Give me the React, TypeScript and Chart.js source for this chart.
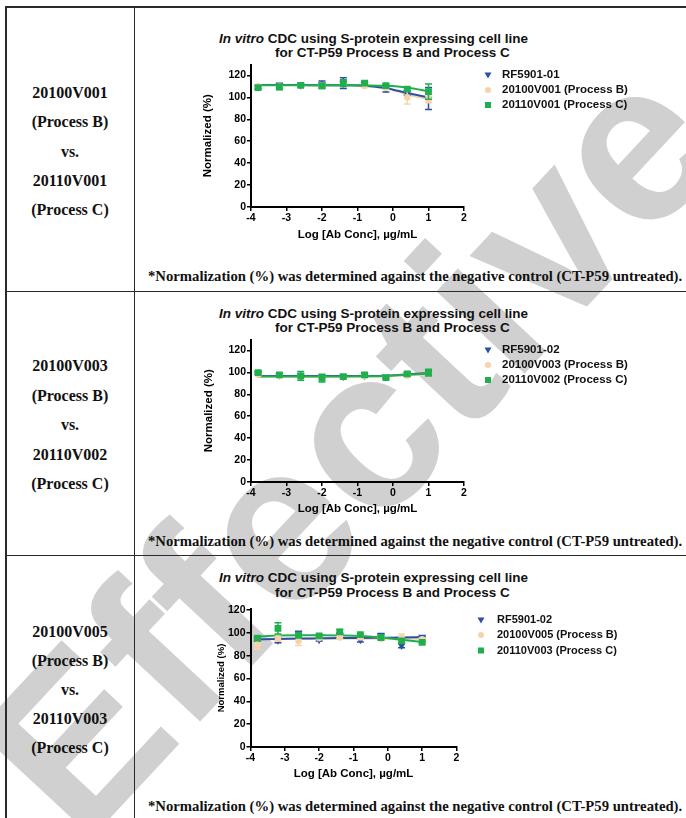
import React, { useEffect, useRef } from 'react';
import { Chart, registerables } from 'chart.js';

Chart.register(...registerables);

const SANS = '"Liberation Sans", Arial, Helvetica, sans-serif';
const SERIF = '"Liberation Serif", "Times New Roman", serif';

const BLUE = '#2C4FA5';
const PEACH = '#F7D3AC';
const GREEN = '#1FAF4C';

// ---------- shared axis data ----------
const xValues = [-3.8, -3.2, -2.6, -2.0, -1.4, -0.8, -0.2, 0.4, 1.0];
const xTickValues = [-4, -3, -2, -1, 0, 1, 2];
const yTickValues = [0, 20, 40, 60, 80, 100, 120];

const titleItalic = 'In vitro';
const titleLine1Rest = ' CDC using S-protein expressing cell line';
const titleLine2 = 'for CT-P59 Process B and Process C';
const yAxisTitle = 'Normalized (%)';
const xAxisTitle = 'Log [Ab Conc], \u00B5g/mL';
const footnote = '*Normalization (%) was determined against the negative control (CT-P59 untreated).';
const watermark = 'Effective';

// ---------- row 1 ----------
const row1Lots = ['20100V001', '(Process B)', 'vs.', '20110V001', '(Process C)'];
const chart1Legend = ['RF5901-01', '20100V001 (Process B)', '20110V001 (Process C)'];
const chart1RefMean = [109.5, 111, 111, 112, 113, 112, 108, 104, 99];
const chart1RefErr = [1.5, 2, 1, 3, 5, 1.5, 3, 2, 10];
const chart1RefFit = [111.2, 111.2, 111.2, 111.1, 111, 110.6, 108.4, 104, 100];
const chart1BMean = [110, 110, 111, 111, 112, 110.5, 108.5, 100, 98];
const chart1BErr = [1, 1, 1, 2, 1, 1.5, 1, 6, 3];
const chart1BFit = [111.2, 111.2, 111.2, 111.1, 111, 110.4, 109, 102.5, 98.3];
const chart1CMean = [109, 109.5, 111, 110.5, 113, 113, 110.8, 107.5, 105.3];
const chart1CErr = [1.5, 2.5, 1.5, 2.5, 3, 2, 1.5, 1.5, 7];
const chart1CFit = [111.1, 111.1, 111.1, 111.1, 111.1, 111, 110.6, 109, 105.5];

// ---------- row 2 ----------
const row2Lots = ['20100V003', '(Process B)', 'vs.', '20110V002', '(Process C)'];
const chart2Legend = ['RF5901-02', '20100V003 (Process B)', '20110V002 (Process C)'];
const chart2RefMean = [99, 97.5, 97, 96, 96, 97, 96, 98, 100];
const chart2RefErr = [1, 1, 1.5, 1, 1, 1, 1, 1, 1.5];
const chart2RefFit = [96.6, 96.6, 96.6, 96.6, 96.6, 96.7, 97, 98.2, 99.3];
const chart2BMean = [98, 97, 96, 95, 95.5, 96.5, 95.5, 97, 98];
const chart2BErr = [1, 1, 2, 1.5, 1, 1, 1, 1.5, 1];
const chart2BFit = [96, 96, 96, 96, 96, 96.1, 96.4, 97.4, 98.2];
const chart2CMean = [99.8, 97.7, 96.8, 94.7, 96.2, 97.7, 95.3, 98.6, 99.8];
const chart2CErr = [1.5, 1.5, 4, 3.5, 1, 2, 1, 2, 3];
const chart2CFit = [96.3, 96.3, 96.3, 96.3, 96.3, 96.4, 96.8, 97.8, 99];

// ---------- row 3 ----------
const row3Lots = ['20100V005', '(Process B)', 'vs.', '20110V003', '(Process C)'];
const chart3Legend = ['RF5901-02', '20100V005 (Process B)', '20110V003 (Process C)'];
const chart3RefMean = [94, 93.5, 99.5, 94, 98, 94, 98, 89, 96.5];
const chart3RefErr = [1, 2, 2, 1, 2, 2, 1.5, 2, 0.5];
const chart3RefFit = [94.3, 94.8, 95.1, 95.3, 95.5, 95.6, 95.8, 96, 96.4];
const chart3BMean = [90, 95, 93, 95.5, 96, 96, 95, 96, 94.5];
const chart3BErr = [4, 2, 4, 1, 1, 1, 1, 3, 1];
const chart3BFit = [94.6, 94.9, 95, 95, 95, 95, 95, 95, 94.9];
const chart3CMean = [95.5, 104, 98, 97.5, 101, 98.5, 96, 93, 91.8];
const chart3CErr = [2, 5, 2, 1, 2, 1, 2, 2, 1];
const chart3CFit = [96.5, 97.8, 97.9, 97.9, 97.8, 97.4, 96, 94, 92];

type Series = { mean: number[]; err: number[]; fit: number[] };
type Geom = {
  plotLeft: number; plotRight: number; plotTop: number; plotBottom: number; yMax: number;
  yTitleX: number; yTitleSize: number; xTitleY: number; xTitleSize: number;
  legendMarkerX: number; legendTextX: number; legendY: number[]; legendSize: number;
};
type Spec = { legend: string[]; ref: Series; b: Series; c: Series; geom: Geom };

const charts: Spec[] = [
  {
    legend: chart1Legend,
    ref: { mean: chart1RefMean, err: chart1RefErr, fit: chart1RefFit },
    b: { mean: chart1BMean, err: chart1BErr, fit: chart1BFit },
    c: { mean: chart1CMean, err: chart1CErr, fit: chart1CFit },
    geom: {
      plotLeft: 251, plotRight: 464, plotTop: 64.5, plotBottom: 207, yMax: 130,
      yTitleX: 208, yTitleSize: 11.5, xTitleY: 235, xTitleSize: 11.5,
      legendMarkerX: 488, legendTextX: 502, legendY: [75, 90, 105], legendSize: 11.5,
    },
  },
  {
    legend: chart2Legend,
    ref: { mean: chart2RefMean, err: chart2RefErr, fit: chart2RefFit },
    b: { mean: chart2BMean, err: chart2BErr, fit: chart2BFit },
    c: { mean: chart2CMean, err: chart2CErr, fit: chart2CFit },
    geom: {
      plotLeft: 251, plotRight: 464, plotTop: 339.5, plotBottom: 482, yMax: 130,
      yTitleX: 208.5, yTitleSize: 11.5, xTitleY: 509, xTitleSize: 11.5,
      legendMarkerX: 488, legendTextX: 502, legendY: [350, 365, 380], legendSize: 11.5,
    },
  },
  {
    legend: chart3Legend,
    ref: { mean: chart3RefMean, err: chart3RefErr, fit: chart3RefFit },
    b: { mean: chart3BMean, err: chart3BErr, fit: chart3BFit },
    c: { mean: chart3CMean, err: chart3CErr, fit: chart3CFit },
    geom: {
      plotLeft: 250.5, plotRight: 456.5, plotTop: 609, plotBottom: 747, yMax: 121,
      yTitleX: 221, yTitleSize: 9.5, xTitleY: 774, xTitleSize: 11.5,
      legendMarkerX: 481, legendTextX: 497, legendY: [620, 635, 650.5], legendSize: 11,
    },
  },
];

function drawMarker(ctx: CanvasRenderingContext2D, style: string, x: number, y: number, color: string) {
  ctx.fillStyle = color;
  ctx.beginPath();
  if (style === 'tri') {
    ctx.moveTo(x - 3.5, y - 2.5);
    ctx.lineTo(x + 3.5, y - 2.5);
    ctx.lineTo(x, y + 3.5);
    ctx.closePath();
  } else if (style === 'circle') {
    ctx.arc(x, y, 3, 0, Math.PI * 2);
  } else {
    ctx.rect(x - 3, y - 3, 6, 6);
  }
  ctx.fill();
}

const errorBarPlugin = {
  id: 'errorBars',
  beforeDatasetDraw(chart: any, args: any) {
    const ds = chart.data.datasets[args.index];
    if (!ds.errors) return;
    const { ctx } = chart;
    const xs = chart.scales.x;
    const ys = chart.scales.y;
    ctx.save();
    ctx.strokeStyle = ds.borderColor;
    ctx.lineWidth = 1.5;
    ds.data.forEach((p: any, j: number) => {
      const e = ds.errors[j];
      if (!e) return;
      const px = xs.getPixelForValue(p.x);
      const top = ys.getPixelForValue(p.y + e);
      const bot = ys.getPixelForValue(p.y - e);
      ctx.beginPath();
      ctx.moveTo(px, top);
      ctx.lineTo(px, bot);
      ctx.moveTo(px - 3.5, top);
      ctx.lineTo(px + 3.5, top);
      ctx.moveTo(px - 3.5, bot);
      ctx.lineTo(px + 3.5, bot);
      ctx.stroke();
    });
    ctx.restore();
  },
};

const CL = 140;
const CW = 686 - CL;

function ChartPanel({ spec }: { spec: Spec }) {
  const ref = useRef<HTMLCanvasElement>(null);
  const g = spec.geom;
  const CT = Math.round(g.plotTop - 14);
  const xLH = g.xTitleSize * 1.2;
  const yLH = g.yTitleSize * 1.2;
  const CH = Math.round(g.xTitleY - CT + xLH / 2);

  useEffect(() => {
    const padTop = g.plotTop - CT;
    const padLeft = g.yTitleX - CL - yLH / 2;
    const yW = g.plotLeft - CL - padLeft;
    const padRight = CW - (g.plotRight - CL);
    const xH = CH - (g.plotBottom - CT);

    const pts = (s: Series) => xValues.map((x, i) => ({ x, y: s.mean[i] }));
    const fit = (s: Series) => xValues.map((x, i) => ({ x, y: s.fit[i] }));
    const lineDs = (s: Series, color: string, order: number) => ({
      data: fit(s), showLine: true, pointRadius: 0, borderColor: color, backgroundColor: color,
      borderWidth: 2, cubicInterpolationMode: 'monotone', fill: false, order,
    });

    const datasets: any[] = [
      { label: spec.legend[2], data: pts(spec.c), errors: spec.c.err, pointStyle: 'rect', pointRadius: 4.8,
        backgroundColor: GREEN, borderColor: GREEN, borderWidth: 0, showLine: false, order: 0 },
      { label: spec.legend[1], data: pts(spec.b), errors: spec.b.err, pointStyle: 'circle', pointRadius: 3.3,
        backgroundColor: PEACH, borderColor: PEACH, borderWidth: 0, showLine: false, order: 1 },
      { label: spec.legend[0], data: pts(spec.ref), errors: spec.ref.err, pointStyle: 'triangle', pointRotation: 180,
        pointRadius: 4.5, backgroundColor: BLUE, borderColor: BLUE, borderWidth: 0, showLine: false, order: 2 },
      lineDs(spec.c, GREEN, 3),
      lineDs(spec.ref, BLUE, 4),
      lineDs(spec.b, PEACH, 5),
    ];

    const legendPlugin = {
      id: 'sideLegend',
      afterDraw(chart: any) {
        const ctx = chart.ctx as CanvasRenderingContext2D;
        const items = [
          { style: 'tri', color: BLUE, label: spec.legend[0] },
          { style: 'circle', color: PEACH, label: spec.legend[1] },
          { style: 'rect', color: GREEN, label: spec.legend[2] },
        ];
        ctx.save();
        ctx.font = `bold ${g.legendSize}px ${SANS}`;
        ctx.textBaseline = 'middle';
        ctx.textAlign = 'left';
        items.forEach((it, i) => {
          const y = g.legendY[i] - CT;
          drawMarker(ctx, it.style, g.legendMarkerX - CL, y, it.color);
          ctx.fillStyle = '#111';
          ctx.fillText(it.label, g.legendTextX - CL, y);
        });
        ctx.restore();
      },
    };

    const tickFont = { family: SANS, size: 10.5, weight: 'bold' as const };
    const chart = new Chart(ref.current as HTMLCanvasElement, {
      type: 'scatter',
      data: { datasets },
      options: {
        animation: false,
        responsive: false,
        devicePixelRatio: 1,
        layout: { padding: { top: padTop, left: padLeft, right: padRight, bottom: 0 } },
        plugins: { legend: { display: false }, tooltip: { enabled: false }, title: { display: false } },
        scales: {
          x: {
            type: 'linear', min: -4, max: 2,
            afterBuildTicks: (s: any) => { s.ticks = xTickValues.map((v) => ({ value: v })); },
            afterFit: (s: any) => { s.height = xH; },
            border: { display: true, color: '#000', width: 2 },
            grid: { display: true, drawOnChartArea: false, drawTicks: true, tickLength: 4, color: '#000', lineWidth: 1.5 },
            ticks: { color: '#000', font: tickFont, padding: 1, maxRotation: 0, autoSkip: false },
            title: { display: true, text: xAxisTitle, color: '#000', padding: 0,
              font: { family: SANS, size: g.xTitleSize, weight: 'bold', lineHeight: 1.2 } },
          },
          y: {
            type: 'linear', min: 0, max: g.yMax,
            afterBuildTicks: (s: any) => { s.ticks = yTickValues.map((v) => ({ value: v })); },
            afterFit: (s: any) => { s.width = yW; },
            border: { display: true, color: '#000', width: 2 },
            grid: { display: true, drawOnChartArea: false, drawTicks: true, tickLength: 4, color: '#000', lineWidth: 1.5 },
            ticks: { color: '#000', font: tickFont, padding: 1 },
            title: { display: true, text: yAxisTitle, color: '#000', padding: 0,
              font: { family: SANS, size: g.yTitleSize, weight: 'bold', lineHeight: 1.2 } },
          },
        },
      } as any,
      plugins: [errorBarPlugin, legendPlugin],
    });
    return () => chart.destroy();
  }, []);

  return (
    <canvas
      ref={ref}
      width={CW}
      height={CH}
      style={{ position: 'absolute', left: CL, top: CT, width: CW, height: CH, zIndex: 2 }}
    />
  );
}

function Line({ x, y, w, h }: { x: number; y: number; w: number; h: number }) {
  return <div style={{ position: 'absolute', left: x, top: y, width: w, height: h, background: '#2a2a2a', zIndex: 1 }} />;
}

const rowLotY = [
  [93, 122, 152, 181, 210],
  [366, 395.5, 425, 454.5, 484],
  [632, 661, 690, 719, 748],
];
const rowTitleY = [[39, 53.3], [314, 328.3], [578.3, 592.7]];
const footY = [276, 541, 806];

export default function App() {
  const lots = [row1Lots, row2Lots, row3Lots];
  return (
    <div style={{ position: 'absolute', left: 0, top: 0, width: 686, height: 818, overflow: 'hidden', background: '#fff' }}>
      <div
        style={{
          position: 'absolute', left: 348, top: 447, transform: 'translate(-50%, -50%) rotate(-47deg)',
          fontFamily: SANS, fontWeight: 'bold', fontSize: 228, lineHeight: 1, color: '#d0d0d0',
          whiteSpace: 'nowrap', zIndex: 0,
        }}
      >
        {watermark}
      </div>

      <Line x={5} y={6} w={681} h={2} />
      <Line x={5} y={6} w={1.5} h={812} />
      <Line x={133.5} y={6} w={1.5} h={812} />
      <Line x={5} y={290.5} w={681} h={1.5} />
      <Line x={5} y={554.5} w={681} h={1.5} />

      {lots.map((rows, r) =>
        rows.map((t, i) => (
          <div
            key={`l${r}-${i}`}
            style={{
              position: 'absolute', left: 6, width: 128, top: rowLotY[r][i] - 10, height: 20, lineHeight: '20px',
              textAlign: 'center', fontFamily: SERIF, fontWeight: 'bold', fontSize: 16, color: '#111', zIndex: 1,
            }}
          >
            {t}
          </div>
        ))
      )}

      {rowTitleY.map((ys, r) => (
        <React.Fragment key={`t${r}`}>
          <div style={{ position: 'absolute', left: 219, top: ys[0] - 8, height: 16, lineHeight: '16px', whiteSpace: 'nowrap',
            fontFamily: SANS, fontWeight: 'bold', fontSize: 13.5, color: '#111', zIndex: 1 }}>
            <i>{titleItalic}</i>{titleLine1Rest}
          </div>
          <div style={{ position: 'absolute', left: 275, top: ys[1] - 8, height: 16, lineHeight: '16px', whiteSpace: 'nowrap',
            fontFamily: SANS, fontWeight: 'bold', fontSize: 13.5, color: '#111', zIndex: 1 }}>
            {titleLine2}
          </div>
        </React.Fragment>
      ))}

      {footY.map((y, r) => (
        <div key={`f${r}`} style={{ position: 'absolute', left: 148, top: y - 9, height: 18, lineHeight: '18px', whiteSpace: 'nowrap',
          fontFamily: SERIF, fontWeight: 'bold', fontSize: 14.7, color: '#111', zIndex: 1 }}>
          {footnote}
        </div>
      ))}

      {charts.map((s, i) => <ChartPanel key={i} spec={s} />)}
    </div>
  );
}
